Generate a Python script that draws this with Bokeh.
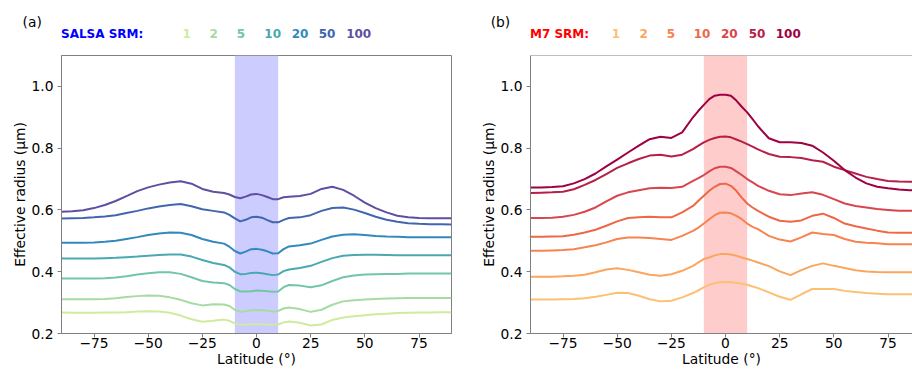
from bokeh.plotting import figure
from bokeh.layouts import row, column
from bokeh.models import BoxAnnotation, Span, FixedTicker, Range1d, PrintfTickFormatter, Div
from bokeh.embed import file_html
from bokeh.resources import INLINE

# Latitude grid (degrees) shared by every zonal-mean profile
LAT = [-90, -85, -80, -75, -70, -65, -60, -55, -50, -45, -40, -35, -30, -25, -20, -15,
       -12.5, -10, -7.5, -5, -2.5, 0, 2.5, 5, 7.5, 10, 12.5,
       15, 20, 25, 30, 35, 40, 45, 50, 55, 60, 65, 70, 75, 80, 85, 90]

SRM_LEVELS = ["1", "2", "5", "10", "20", "50", "100"]

# SALSA effective radius (um) per SRM injection rate
salsa_1 = [.268, .267, .267, .267, .268, .268, .269, .271, .272, .271, .267, .258, .246, .238, .241, .245,
           .241, .233, .228, .229, .230, .231, .230, .229, .228, .229, .236,
           .239, .235, .226, .229, .244, .252, .256, .259, .262, .264, .266, .267, .268, .268, .269, .269]
salsa_2 = [.311, .311, .311, .311, .312, .314, .318, .321, .323, .322, .317, .309, .298, .291, .295, .294,
           .289, .277, .270, .272, .275, .276, .275, .274, .271, .273, .281,
           .284, .279, .270, .277, .293, .304, .308, .310, .312, .313, .314, .315, .315, .315, .315, .315]
salsa_5 = [.378, .378, .378, .378, .379, .381, .385, .391, .395, .398, .398, .393, .382, .370, .365, .363,
           .357, .344, .336, .336, .337, .339, .338, .337, .335, .336, .350,
           .357, .355, .350, .356, .370, .382, .388, .391, .392, .393, .393, .394, .394, .394, .394, .394]
salsa_10 = [.443, .443, .443, .443, .444, .445, .447, .449, .452, .454, .456, .456, .449, .438, .428, .422,
            .414, .400, .392, .393, .396, .397, .395, .392, .389, .391, .402,
            .407, .412, .419, .432, .444, .452, .454, .455, .455, .454, .453, .453, .453, .453, .453, .453]
salsa_20 = [.494, .494, .494, .495, .497, .500, .506, .512, .519, .524, .527, .526, .519, .506, .497, .491,
            .481, .467, .459, .465, .473, .474, .471, .466, .459, .460, .473,
            .482, .486, .491, .503, .514, .520, .521, .519, .516, .514, .513, .512, .512, .512, .512, .512]
salsa_50 = [.572, .573, .574, .576, .579, .583, .590, .597, .605, .611, .616, .619, .612, .602, .597, .592,
            .584, .573, .563, .568, .576, .578, .575, .567, .560, .560, .568,
            .574, .576, .583, .597, .606, .608, .601, .590, .578, .568, .562, .557, .555, .554, .554, .553]
salsa_100 = [.594, .596, .599, .606, .616, .629, .645, .661, .673, .682, .689, .693, .685, .668, .659, .655,
             .650, .642, .638, .643, .650, .652, .648, .642, .635, .635, .641,
             .643, .645, .652, .668, .675, .665, .646, .624, .606, .592, .581, .576, .574, .573, .573, .573]

# M7 effective radius (um) per SRM injection rate
m7_1 = [.310, .310, .310, .311, .312, .314, .319, .325, .332, .331, .322, .311, .304, .306, .317, .331,
        .340, .349, .358, .363, .366, .367, .366, .364, .361, .358, .352,
        .347, .333, .319, .309, .327, .344, .344, .344, .338, .334, .331, .329, .327, .327, .327, .327]
m7_2 = [.384, .384, .384, .385, .387, .390, .398, .407, .411, .406, .398, .390, .387, .392, .403, .419,
        .430, .441, .446, .453, .457, .457, .456, .452, .446, .441, .436,
        .430, .418, .401, .389, .405, .419, .427, .419, .412, .405, .401, .399, .398, .398, .398, .398]
m7_5 = [.468, .468, .469, .470, .473, .479, .486, .495, .506, .511, .511, .509, .506, .503, .516, .532,
        .543, .556, .570, .583, .591, .592, .589, .581, .570, .556, .545,
        .538, .516, .504, .498, .511, .527, .522, .519, .506, .497, .494, .492, .489, .489, .489, .489]
m7_10 = [.513, .513, .514, .515, .520, .527, .536, .549, .563, .574, .576, .578, .576, .576, .592, .613,
         .630, .646, .662, .675, .684, .685, .678, .662, .640, .621, .608,
         .597, .578, .565, .562, .566, .581, .588, .574, .556, .547, .540, .533, .527, .526, .526, .526]
m7_20 = [.574, .574, .575, .578, .584, .594, .608, .628, .646, .657, .664, .670, .672, .671, .675, .694,
         .703, .713, .725, .735, .740, .740, .736, .725, .713, .700, .689,
         .678, .662, .651, .648, .653, .657, .649, .635, .621, .613, .608, .603, .600, .597, .597, .597]
m7_50 = [.655, .656, .657, .659, .667, .681, .697, .716, .736, .751, .765, .776, .779, .773, .779, .797,
         .808, .819, .827, .833, .837, .838, .835, .828, .821, .813, .805,
         .796, .781, .772, .771, .768, .761, .756, .740, .729, .718, .707, .700, .694, .692, .691, .691]
m7_100 = [.673, .673, .674, .677, .686, .700, .718, .741, .763, .786, .808, .829, .837, .833, .851, .900,
          .921, .940, .959, .970, .973, .973, .970, .954, .934, .916, .894,
          .871, .832, .819, .819, .817, .808, .786, .759, .729, .705, .686, .675, .670, .666, .664, .664]

SALSA = [salsa_1, salsa_2, salsa_5, salsa_10, salsa_20, salsa_50, salsa_100]
M7 = [m7_1, m7_2, m7_5, m7_10, m7_20, m7_50, m7_100]

SALSA_COLORS = ["#cfeb9d", "#a6dba3", "#72c6a5", "#4aa8b1", "#3388bc", "#4266ad", "#5e4fa2"]
M7_COLORS = ["#fdc073", "#fca55d", "#f7834f", "#ee6746", "#d8464d", "#b81f48", "#9e0142"]

FONT = "DejaVu Sans"
FRAME = "#808080"
FS = "13.8px"
HEAD_H = 55
PANEL_W = 456


def header(head, head_color, colors, head_x, level_x, tag, tag_x):
    # strip above each panel: panel tag and the coloured SRM key
    base = "position:absolute;white-space:nowrap;line-height:1;"
    parts = [f'<span style="{base}left:{tag_x}px;top:22.5px;transform:translate(-50%,-50%);'
             f'font-size:{FS};color:#000;">{tag}</span>',
             f'<span style="{base}left:{head_x}px;top:34px;transform:translate(0,-50%);'
             f'font-size:12px;font-weight:bold;color:{head_color};">{head}</span>']
    for lbl, lx, c in zip(SRM_LEVELS, level_x, colors):
        parts.append(f'<span style="{base}left:{lx}px;top:34px;transform:translate(-50%,-50%);'
                     f'font-size:12px;font-weight:bold;color:{c};">{lbl}</span>')
    html = (f'<div style="position:relative;width:{PANEL_W}px;height:{HEAD_H}px;'
            f"font-family:'{FONT}';\">" + "".join(parts) + "</div>")
    return Div(text=html, width=PANEL_W, height=HEAD_H, margin=0)


def panel(left_border, x_end, band_color, series, colors, full_outline):
    p = figure(width=PANEL_W, height=370 - HEAD_H, x_range=Range1d(-90, x_end), y_range=Range1d(0.2, 1.1),
               output_backend="svg", toolbar_location=None,
               min_border_left=left_border, min_border_right=5 if full_outline else 0,
               min_border_top=0, min_border_bottom=37)
    p.grid.visible = False
    p.outline_line_color = FRAME if full_outline else None

    # equatorial injection band
    p.add_layout(BoxAnnotation(left=-10, right=10, fill_color=band_color, fill_alpha=1.0,
                               line_color=None, level="underlay"))

    for vals, c in zip(series, colors):
        p.line(LAT, vals, line_color=c, line_width=2, line_join="round")

    if not full_outline:
        p.add_layout(Span(location=1.1, dimension="width", line_color=FRAME, line_width=1))

    p.xaxis.ticker = FixedTicker(ticks=[-75, -50, -25, 0, 25, 50, 75])
    p.xaxis.major_label_overrides = {-75: "\u221275", -50: "\u221250", -25: "\u221225",
                                     0: "0", 25: "25", 50: "50", 75: "75"}
    p.yaxis.ticker = FixedTicker(ticks=[0.2, 0.4, 0.6, 0.8, 1.0])
    p.yaxis.formatter = PrintfTickFormatter(format="%.1f")
    p.xaxis.axis_label = "Latitude (\u00b0)"
    p.yaxis.axis_label = "Effective radius (\u03bcm)"

    for ax in (p.xaxis[0], p.yaxis[0]):
        ax.axis_line_color = FRAME
        ax.major_tick_line_color = FRAME
        ax.minor_tick_line_color = None
        ax.major_tick_in = 0
        ax.major_tick_out = 4
        ax.major_label_text_font = FONT
        ax.major_label_text_font_size = FS
        ax.major_label_text_color = "black"
        ax.axis_label_text_font = FONT
        ax.axis_label_text_font_size = FS
        ax.axis_label_text_font_style = "normal"
        ax.axis_label_text_color = "black"
    p.yaxis.major_label_standoff = 4
    p.yaxis.axis_label_standoff = 1
    p.xaxis.major_label_standoff = 0
    p.xaxis.axis_label_standoff = 0
    return p


h1 = header("SALSA SRM:", "#0000ff", SALSA_COLORS, 61,
            [186.7, 213.7, 241, 272.7, 300, 327, 358.7], "(a)", 32.2)
p1 = panel(61, 90, "#ccccff", SALSA, SALSA_COLORS, True)

h2 = header("M7 SRM:", "#ff0000", M7_COLORS, 74,
            [160, 187.7, 215, 246, 273.3, 301, 332.3], "(b)", 44.5)
p2 = panel(74, 86.3, "#ffcccc", M7, M7_COLORS, False)

layout = row(column(h1, p1, spacing=0), column(h2, p2, spacing=0), spacing=0)
open("out.html", "w").write(file_html(layout, INLINE))
